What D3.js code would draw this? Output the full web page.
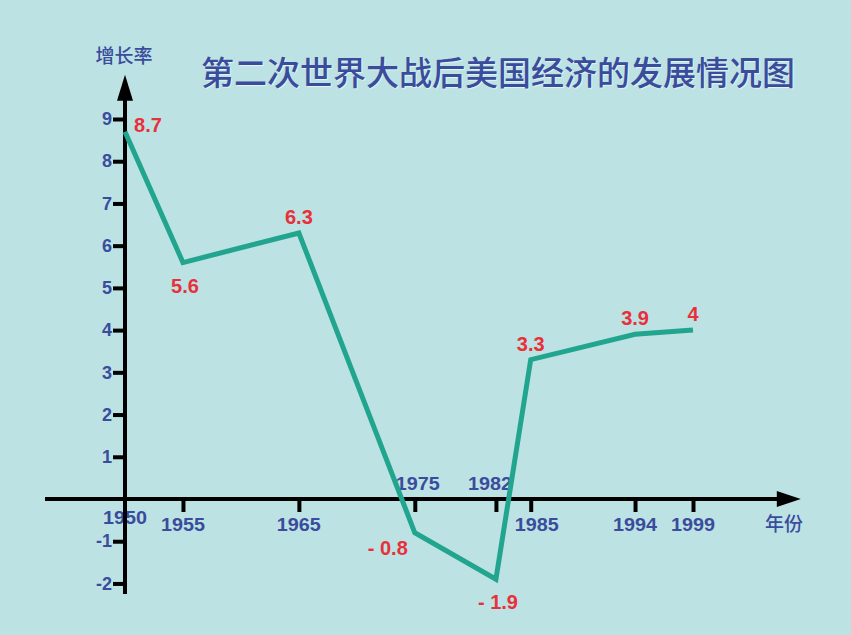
<!DOCTYPE html>
<html>
<head>
<meta charset="utf-8">
<script src="https://cdn.jsdelivr.net/npm/d3@7"></script>
<style>
  html, body { margin: 0; padding: 0; background: #bde2e3; }
  svg { display: block; }
</style>
</head>
<body>
<svg id="chart" width="851" height="635"></svg>
<script>
// ---- data ----
const title = "第二次世界大战后美国经济的发展情况图";
const yAxisTitle = "增长率";
const xAxisTitle = "年份";
const years = [1950, 1955, 1965, 1975, 1982, 1985, 1994, 1999];
const growth = [8.7, 5.6, 6.3, -0.8, -1.9, 3.3, 3.9, 4];
const growthLabels = ["8.7", "5.6", "6.3", "- 0.8", "- 1.9", "3.3", "3.9", "4"];
const labelPlacement = ["right", "below", "above", "belowLeft", "below", "above", "above", "above"];
const yTickValues = [-2, -1, 1, 2, 3, 4, 5, 6, 7, 8, 9];
const xTickYears = [1950, 1955, 1965, 1975, 1982, 1985, 1994, 1999];
const xTickLabelSide = ["origin", "below", "below", "above", "above", "below", "below", "below"];

// ---- style ----
const BLUE = "#3a4c9c";
const RED = "#e8303a";
const TEAL = "#22a58e";
const FONT = "'Liberation Sans', Arial, sans-serif";
const CJK = "'Noto Sans CJK SC', sans-serif";

const svg = d3.select("#chart");
svg.append("rect").attr("width", 851).attr("height", 635).attr("fill", "#bde2e3");

const x = d3.scaleLinear().domain([1950, 1999]).range([125, 693]);
const y = d3.scaleLinear().domain([0, 9]).range([499, 119]);

const x0 = x(1950), y0 = y(0);

// Title
svg.append("text")
  .attr("x", 498).attr("y", 85)
  .attr("text-anchor", "middle")
  .attr("font-family", CJK).attr("font-weight", 500)
  .attr("font-size", 33).attr("fill", BLUE)
  .attr("style", "text-shadow: 1px 1px 1px rgba(255,255,255,0.6)")
  .text(title);

// Y axis title
svg.append("text")
  .attr("x", 124).attr("y", 63)
  .attr("text-anchor", "middle")
  .attr("font-family", CJK).attr("font-weight", 500)
  .attr("font-size", 19).attr("fill", BLUE)
  .text(yAxisTitle);

// X axis title
svg.append("text")
  .attr("x", 784).attr("y", 531)
  .attr("text-anchor", "middle")
  .attr("font-family", CJK).attr("font-weight", 500)
  .attr("font-size", 19).attr("fill", BLUE)
  .text(xAxisTitle);

// X tick labels (drawn before axis so the axis crosses "1950")
const xLab = svg.append("g");
xTickYears.forEach((yr, i) => {
  const side = xTickLabelSide[i];
  let ty, dx = 0;
  if (side === "above") { ty = y0 - 9; dx = (yr === 1982 ? -6 : 3); }
  else if (side === "origin") { ty = y0 + 25; }
  else { ty = y0 + 32; dx = (yr === 1985 ? 6 : 0); }
  xLab.append("text")
    .attr("x", x(yr) + dx).attr("y", ty)
    .attr("text-anchor", "middle")
    .attr("font-family", FONT).attr("font-weight", "bold")
    .attr("font-size", 19).attr("fill", BLUE)
    .attr("textLength", 44).attr("lengthAdjust", "spacingAndGlyphs")
    .text(yr);
});

// Y axis with ticks
const yAxis = d3.axisLeft(y).tickValues(yTickValues).tickSize(12).tickPadding(1)
  .tickFormat(d => String(d));
const gy = svg.append("g").attr("transform", `translate(${x0},0)`).call(yAxis);
gy.select(".domain").remove();
gy.selectAll(".tick line").attr("stroke", "#000").attr("stroke-width", 4);
gy.selectAll(".tick text")
  .attr("font-family", FONT).attr("font-weight", "bold")
  .attr("font-size", 18).attr("fill", BLUE);

// X axis ticks (skip origin)
const xAxis = d3.axisBottom(x).tickValues(xTickYears.filter(d => d !== 1950)).tickSize(13).tickFormat("");
const gx = svg.append("g").attr("transform", `translate(0,${y0})`).call(xAxis);
gx.select(".domain").remove();
gx.selectAll(".tick line").attr("stroke", "#000").attr("stroke-width", 4);

// Axis lines with arrowheads
const yTop = y(10.05), yBottom = y(-2.25);
svg.append("line").attr("x1", x0).attr("x2", x0).attr("y1", yBottom).attr("y2", yTop + 20)
  .attr("stroke", "#000").attr("stroke-width", 4);
svg.append("path")
  .attr("d", `M${x0},${yTop} L${x0 - 8},${yTop + 26} L${x0 + 8},${yTop + 26} Z`)
  .attr("fill", "#000");

const xLeft = x(1943.1), xRight = x(2008.3);
svg.append("line").attr("x1", xLeft).attr("x2", xRight - 20).attr("y1", y0).attr("y2", y0)
  .attr("stroke", "#000").attr("stroke-width", 4);
svg.append("path")
  .attr("d", `M${xRight},${y0} L${xRight - 24},${y0 - 8} L${xRight - 24},${y0 + 8} Z`)
  .attr("fill", "#000");

// Data line
const pts = years.map((yr, i) => [x(yr), y(growth[i])]);
svg.append("path")
  .attr("d", d3.line()(pts))
  .attr("fill", "none").attr("stroke", TEAL)
  .attr("stroke-width", 5).attr("stroke-linejoin", "miter");

// Data labels
const offsets = {
  right: [23, 0],
  below: [2, 30],
  above: [0, -9],
  belowLeft: [-27, 22]
};
years.forEach((yr, i) => {
  const [dx, dy] = offsets[labelPlacement[i]];
  svg.append("text")
    .attr("x", pts[i][0] + dx).attr("y", pts[i][1] + dy)
    .attr("text-anchor", "middle")
    .attr("font-family", FONT).attr("font-weight", "bold")
    .attr("font-size", 20).attr("fill", RED)
    .text(growthLabels[i]);
});
</script>
</body>
</html>
